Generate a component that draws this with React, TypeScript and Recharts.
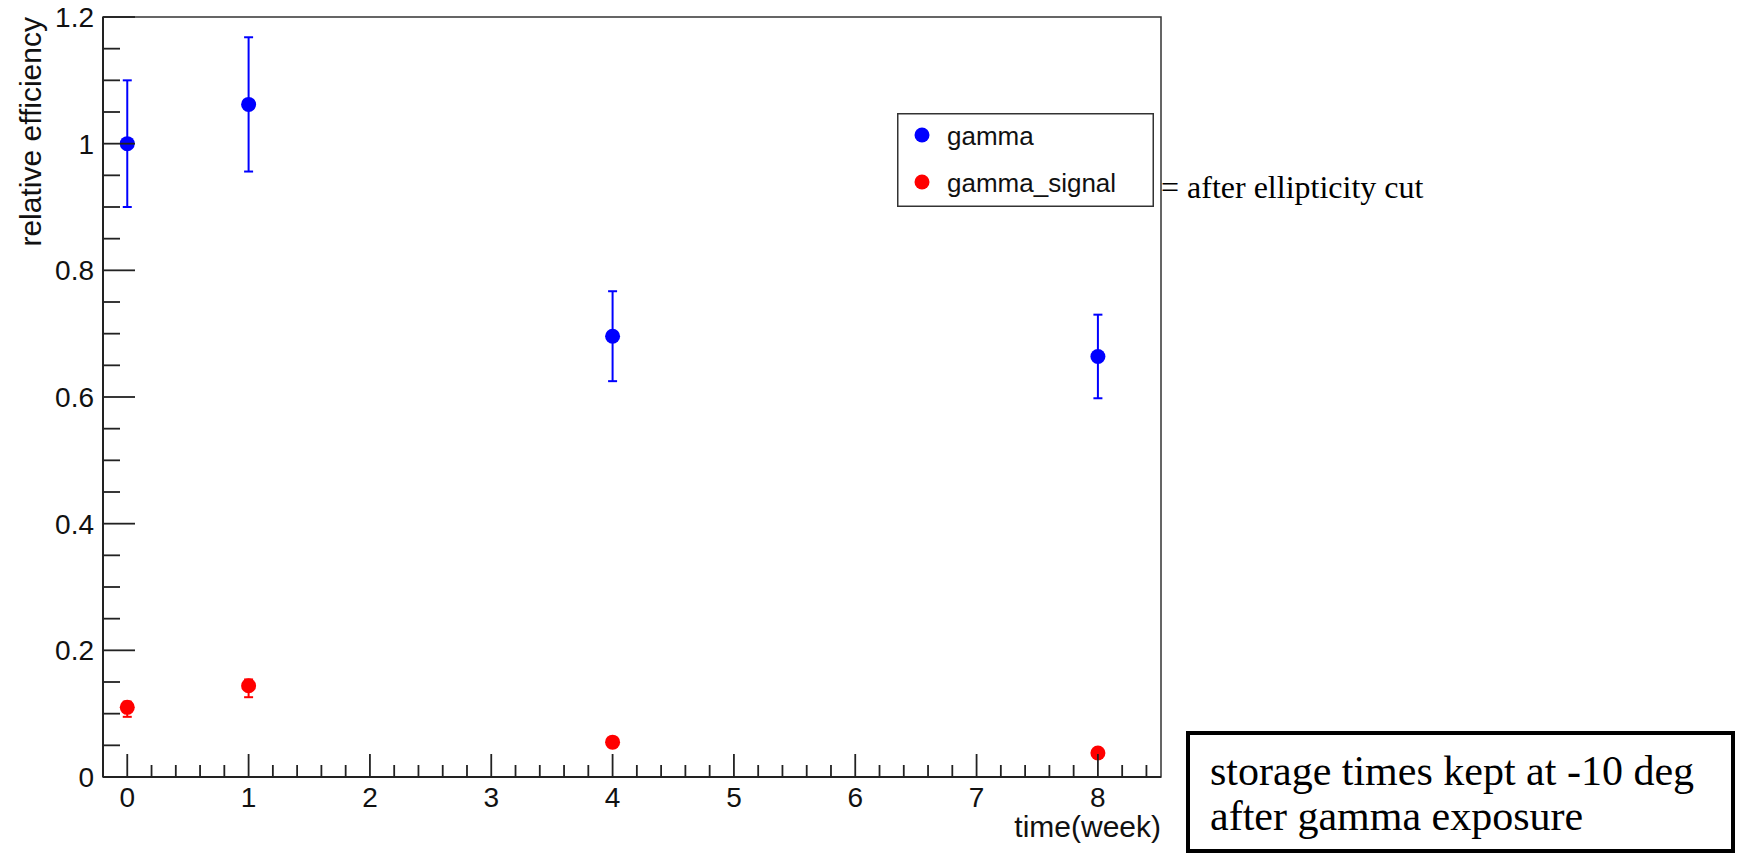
import React from "react";
import { ScatterChart, Scatter, XAxis, YAxis, ErrorBar, ReferenceArea, Legend } from "recharts";

const weeks = [0, 1, 4, 8];
const gammaValues = [1.0, 1.062, 0.696, 0.664];
const gammaErrors = [0.1, 0.106, 0.071, 0.066];
const signalValues = [0.11, 0.144, 0.055, 0.038];
const signalErrorsLow = [0.015, 0.018, 0.008, 0.006];
const signalErrorsHigh = [0.009, 0.01, 0.006, 0.005];

const seriesNames = ["gamma", "gamma_signal"];
const seriesColors = ["#0000ff", "#ff0000"];

const xMajorTicks = [0, 1, 2, 3, 4, 5, 6, 7, 8];
const yMajorTicks = [0, 0.2, 0.4, 0.6, 0.8, 1, 1.2];
const xDomain = [-0.2, 8.52];
const yDomain = [0, 1.2];
const xTitle = "time(week)";
const yTitle = "relative efficiency";
const noteRight = "= after ellipticity cut";
const noteBoxLines = ["storage times kept at -10 deg", "after gamma exposure"];

// minor tick positions (every 0.2 on x, every 0.05 on y)
const xTicks: number[] = [];
for (let i = 0; i <= 42; i++) xTicks.push(Math.round(i * 0.2 * 100) / 100);
const yTicks: number[] = [];
for (let i = 0; i <= 24; i++) yTicks.push(Math.round(i * 0.05 * 100) / 100);

const gammaData = weeks.map((w, i) => ({ x: w, y: gammaValues[i], err: gammaErrors[i] }));
const signalData = weeks.map((w, i) => ({
  x: w,
  y: signalValues[i],
  err: [signalErrorsLow[i], signalErrorsHigh[i]],
}));

const SANS = "'Liberation Sans', Arial, Helvetica, sans-serif";
const SERIF = "'Liberation Serif', 'Times New Roman', serif";

const isMajor = (v: number, list: number[]) => list.some((m) => Math.abs(m - v) < 1e-6);

const XTick = (props: any) => {
  const { x, y, payload } = props;
  const v = payload.value;
  const major = isMajor(v, xMajorTicks);
  return (
    <g>
      <line x1={x} y1={y} x2={x} y2={y - (major ? 23 : 12)} stroke="#222" strokeWidth={1.8} />
      {major && (
        <text x={x} y={y + 30} textAnchor="middle" fontFamily={SANS} fontSize={28} fill="#111">
          {String(v)}
        </text>
      )}
    </g>
  );
};

const YTick = (props: any) => {
  const { x, y, payload } = props;
  const v = payload.value;
  const major = isMajor(v, yMajorTicks);
  return (
    <g>
      <line x1={x} y1={y} x2={x + (major ? 32 : 17)} y2={y} stroke="#222" strokeWidth={1.8} />
      {major && (
        <text x={x - 9} y={y + 10} textAnchor="end" fontFamily={SANS} fontSize={28} fill="#111">
          {String(Number(v.toFixed(1)))}
        </text>
      )}
    </g>
  );
};

const dot = (color: string) => (props: any) => (
  <circle cx={props.cx} cy={props.cy} r={7.5} fill={color} />
);

const LegendBox = (props: any) => {
  const payload = props.payload || [];
  return (
    <svg width={257} height={94} style={{ display: "block" }}>
      <rect x={0.75} y={0.75} width={255.5} height={92.5} fill="#fff" stroke="#333" strokeWidth={1.5} />
      {payload.map((p: any, i: number) => (
        <g key={i}>
          <circle cx={25} cy={22 + i * 47} r={7.5} fill={p.color} />
          <text x={50} y={32 + i * 47} fontFamily={SANS} fontSize={26} fill="#111">
            {p.value}
          </text>
        </g>
      ))}
    </svg>
  );
};

export default function App() {
  return (
    <div style={{ position: "absolute", left: 0, top: 0, width: 1739, height: 855, background: "#fff" }}>
      <ScatterChart width={1739} height={855} margin={{ top: 17, right: 578, bottom: 0, left: 0 }}>
        <XAxis
          dataKey="x"
          type="number"
          domain={xDomain}
          ticks={xTicks}
          interval={0}
          allowDataOverflow
          height={78}
          tickSize={0}
          tickMargin={0}
          tickLine={false}
          tick={<XTick />}
          axisLine={{ stroke: "#222", strokeWidth: 2 }}
          label={{
            content: (p: any) => {
              const vb = p.viewBox || { x: 103, y: 777, width: 1058 };
              return (
                <text x={vb.x + vb.width} y={vb.y + 60} textAnchor="end" fontFamily={SANS} fontSize={30} fill="#111">
                  {xTitle}
                </text>
              );
            },
          }}
        />
        <YAxis
          dataKey="y"
          type="number"
          domain={yDomain}
          ticks={yTicks}
          interval={0}
          allowDataOverflow
          width={103}
          tickSize={0}
          tickMargin={0}
          tickLine={false}
          tick={<YTick />}
          axisLine={{ stroke: "#222", strokeWidth: 2 }}
          label={{
            content: (p: any) => {
              const vb = p.viewBox || { x: 0, y: 17 };
              return (
                <text
                  transform="rotate(-90)"
                  x={-vb.y}
                  y={41}
                  textAnchor="end"
                  fontFamily={SANS}
                  fontSize={30}
                  fill="#111"
                >
                  {yTitle}
                </text>
              );
            },
          }}
        />
        <ReferenceArea
          x1={xDomain[0]}
          x2={xDomain[1]}
          y1={yDomain[0]}
          y2={yDomain[1]}
          fill="none"
          fillOpacity={0}
          stroke="#333"
          strokeWidth={1.5}
          ifOverflow="visible"
        />
        <Legend
          layout="vertical"
          align="center"
          verticalAlign="middle"
          content={<LegendBox />}
          wrapperStyle={{ left: 897, top: 113, width: 257, height: 94 }}
        />
        <Scatter
          name={seriesNames[0]}
          data={gammaData}
          fill={seriesColors[0]}
          shape={dot(seriesColors[0])}
          isAnimationActive={false}
        >
          <ErrorBar dataKey="err" direction="y" width={4.5} stroke={seriesColors[0]} strokeWidth={2} isAnimationActive={false} />
        </Scatter>
        <Scatter
          name={seriesNames[1]}
          data={signalData}
          fill={seriesColors[1]}
          shape={dot(seriesColors[1])}
          isAnimationActive={false}
        >
          <ErrorBar dataKey="err" direction="y" width={4.5} stroke={seriesColors[1]} strokeWidth={2} isAnimationActive={false} />
        </Scatter>
      </ScatterChart>
      <svg
        width={1739}
        height={855}
        style={{ position: "absolute", left: 0, top: 0, pointerEvents: "none" }}
      >
        <text x={1161} y={198} fontFamily={SERIF} fontSize={32} fill="#000" xmlSpace="preserve">
          {noteRight}
        </text>
        <rect x={1188} y={733} width={545} height={118} fill="#fff" stroke="#000" strokeWidth={4} />
        {noteBoxLines.map((line, i) => (
          <text key={i} x={1210} y={785 + i * 45} fontFamily={SERIF} fontSize={42} fill="#000">
            {line}
          </text>
        ))}
      </svg>
    </div>
  );
}
